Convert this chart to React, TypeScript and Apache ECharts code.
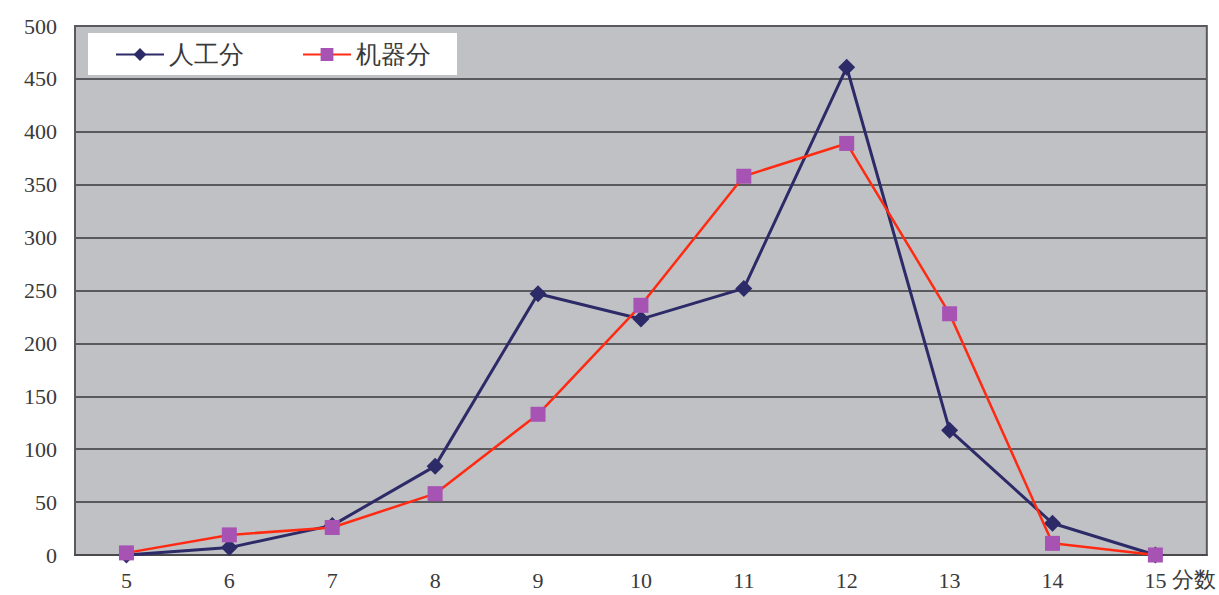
import React, { useEffect, useRef } from "react";
import * as echarts from "echarts";

const categories = ["5", "6", "7", "8", "9", "10", "11", "12", "13", "14", "15"];
const humanScores = [0, 7, 28, 84, 247, 223, 252, 461, 118, 30, 0];
const machineScores = [2, 19, 26, 58, 133, 236, 358, 389, 228, 11, 0];
const seriesNames = ["人工分", "机器分"];
const xAxisName = "分数";

const FONT = "serif";

export default function App() {
  const ref = useRef<HTMLDivElement>(null);
  useEffect(() => {
    document.body.style.margin = "0";
    if (!ref.current) return;
    const chart = echarts.init(ref.current, undefined, { renderer: "svg" });
    chart.setOption({
      animation: false,
      backgroundColor: "#ffffff",
      textStyle: { fontFamily: FONT },
      grid: {
        left: 75,
        top: 26,
        right: 6,
        bottom: 40,
        show: true,
        backgroundColor: "#c0c1c5",
        borderColor: "#5a5a5e",
        borderWidth: 2,
      },
      legend: {
        left: 88,
        top: 33,
        backgroundColor: "#ffffff",
        padding: [9, 26, 8, 27],
        itemGap: 58,
        itemWidth: 48,
        itemHeight: 16,
        textStyle: { fontSize: 25, color: "#3a3a3a", fontFamily: FONT },
        data: seriesNames,
      },
      xAxis: {
        type: "category",
        data: categories,
        boundaryGap: true,
        name: xAxisName,
        nameLocation: "end",
        nameGap: 0,
        nameTextStyle: {
          align: "right",
          verticalAlign: "top",
          fontSize: 22,
          color: "#3a3a3a",
          padding: [13, 0, 0, 0],
          fontFamily: FONT,
        },
        axisLine: { lineStyle: { color: "#4a4a4e", width: 2 } },
        axisTick: { show: false },
        axisLabel: { fontSize: 22, color: "#3a3a3a", margin: 14, fontFamily: FONT },
      },
      yAxis: {
        type: "value",
        min: 0,
        max: 500,
        interval: 50,
        axisLine: { show: false },
        axisTick: { show: false },
        axisLabel: { fontSize: 22, color: "#3a3a3a", margin: 18, fontFamily: FONT },
        splitLine: { lineStyle: { color: "#5a5a5e", width: 2 } },
      },
      series: [
        {
          name: seriesNames[0],
          type: "line",
          data: humanScores,
          symbol: "diamond",
          symbolSize: 17,
          lineStyle: { color: "#2d2a68", width: 3 },
          itemStyle: { color: "#2d2a68" },
          z: 2,
        },
        {
          name: seriesNames[1],
          type: "line",
          data: machineScores,
          symbol: "rect",
          symbolSize: 15,
          lineStyle: { color: "#ff2a12", width: 2.5 },
          itemStyle: { color: "#a753b4" },
          z: 3,
        },
      ],
    });
    return () => chart.dispose();
  }, []);
  return <div ref={ref} style={{ width: 1219, height: 595 }} />;
}
